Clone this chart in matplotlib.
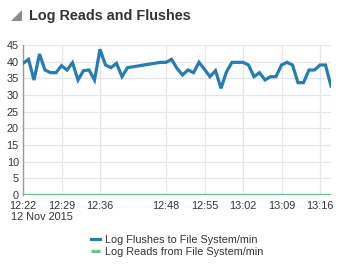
import matplotlib.pyplot as plt
from matplotlib.patches import Polygon

plt.rcParams['font.family'] = ['Liberation Sans', 'DejaVu Sans']

# minutes after 12:22 on 12 Nov 2015
minutes = list(range(0, 20)) + list(range(25, 57))
flushes = [39.5, 40.7, 34.5, 42.3, 37.5, 36.7, 36.7, 38.8, 37.5, 39.7,
           34.5, 37.3, 37.5, 34.5, 43.7, 39.0, 38.2, 39.5, 35.5, 38.2,
           39.8, 39.8, 40.7, 38.0, 36.0, 37.5, 36.7, 39.8, 37.7, 35.5,
           37.3, 32.0, 37.0, 39.8, 39.8, 39.8, 39.0, 35.5, 36.7, 34.5,
           35.5, 35.5, 39.0, 39.8, 39.0, 33.7, 33.7, 37.5, 37.5, 39.0,
           39.0, 32.7]
reads = [0.0] * len(minutes)

tick_pos = [0, 7, 14, 26, 33, 40, 47, 54]
tick_labels = ["12:22", "12:29", "12:36", "12:48", "12:55", "13:02", "13:09", "13:16"]
y_ticks = list(range(0, 50, 5))

W, H = 340, 264
fig = plt.figure(figsize=(W / 100, H / 100), dpi=100)
fig.patch.set_facecolor("white")
ax = fig.add_axes([23 / W, 1 - 195 / H, (331 - 23) / W, 150 / H])

ax.plot(minutes, reads, color="#6cc486", lw=2.4, solid_capstyle="butt",
        label="Log Reads from File System/min", zorder=3)
ax.plot(minutes, flushes, color="#267db3", lw=2.3, solid_joinstyle="miter",
        label="Log Flushes to File System/min", zorder=4)

ax.set_xlim(0, 56)
ax.set_ylim(0, 45)
ax.set_xticks(tick_pos)
ax.set_xticklabels(tick_labels)
ax.set_yticks(y_ticks)
ax.grid(color="#e3e7ec", lw=0.9)
ax.set_axisbelow(True)
for s in ["top", "right", "bottom"]:
    ax.spines[s].set_visible(False)
ax.spines["left"].set_color("#9a9a9a")
ax.spines["left"].set_linewidth(1.0)
ax.tick_params(length=0, labelsize=7.8, colors="#333333")
ax.tick_params(axis="x", pad=4)
ax.tick_params(axis="y", pad=3)

fig.text(11 / W, 1 - 217 / H, "12 Nov 2015", fontsize=7.8, color="#333333",
         va="center", ha="left")

# title with triangle marker
fig.patches.append(Polygon([(11 / W, 1 - 21 / H), (22 / W, 1 - 21 / H), (22 / W, 1 - 10 / H)],
                           closed=True, transform=fig.transFigure,
                           facecolor="#8c8c8c", edgecolor="none"))
fig.text(29 / W, 1 - 16 / H, "Log Reads and Flushes", fontsize=10.4, fontweight="bold",
         color="#333333", va="center", ha="left")

h, l = ax.get_legend_handles_labels()
fig.legend(h[::-1], l[::-1], loc="center left", bbox_to_anchor=(86 / W, 1 - 246 / H),
           frameon=False, fontsize=7.8, handlelength=0.8, handletextpad=0.45,
           labelspacing=0.15, borderpad=0, labelcolor="#333333")

fig.savefig("out.png", dpi=100)
